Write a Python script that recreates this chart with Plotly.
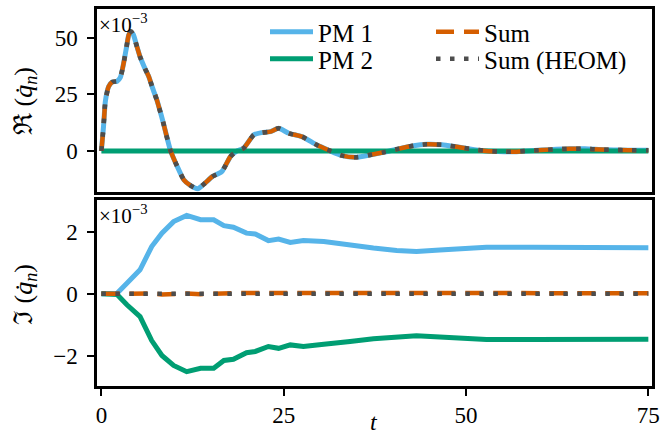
import plotly.graph_objects as go

# ---------------- data ----------------
# top panel: real part (values in units of 1e-3)
t_re = [0, 0.3, 0.55, 1.0, 1.5, 2.15, 2.6, 3.05, 3.45, 3.75, 4.05, 4.4, 4.8, 5.3, 5.9,
        6.5, 7.0, 7.6, 8.5, 9.45, 10.4, 11.3, 12.2, 13.2, 14.2, 15.2, 16.5, 17.7, 18.6, 19.5,
        20.9, 22.0, 23.2, 24.3, 25.7, 27.5, 29.5, 31.1, 33.0, 35.0, 36.8, 38.7, 40.7, 42.8, 44.6,
        46.7, 48.5, 50.5, 52.4, 54.4, 56.5, 58.3, 60.4, 62.4, 64.2, 66.3, 68.4, 70.2, 72.2, 75.0]
pm1_re = [0, 11, 22, 28.5, 30.5, 30.8, 32.5, 38.8, 46, 51.3, 52.8, 51.3, 47, 41.7, 37,
          32.9, 28, 22.6, 12.3, 0.4, -6.9, -12.8, -15.3, -16.8, -14.3, -11.4, -9.2, -2.5, 0, 1.2,
          7.1, 8.1, 8.5, 10, 7.8, 6.3, 2.7, 0.4, -2.1, -2.8, -1.8, -0.6, 0.9, 2.3, 2.9,
          2.7, 1.9, 0.9, 0.1, -0.3, -0.4, 0, 0.4, 0.7, 0.9, 0.9, 0.6, 0.4, 0.3, 0.3]
t_re_flat = [0, 75]
pm2_re = [0, 0]
sum_re = list(pm1_re)      # Sum overlaps PM 1 exactly in the picture
heom_re = list(pm1_re)     # HEOM sum overlaps as well

# bottom panel: imaginary part (values in units of 1e-3)
t_im = [0, 1.0, 2.15, 3.5, 5.3, 6.9, 8.3, 9.9, 11.7, 13.6, 15.4, 16.8, 18.1, 19.9, 21.1,
        22.9, 24.3, 25.9, 27.7, 30.5, 32.7, 34.1, 37.3, 40.5, 43.2, 46.4, 50.1, 52.8, 59.2, 66.1, 75.0]
pm1_im = [0, 0, 0.02, 0.34, 0.77, 1.52, 1.95, 2.32, 2.52, 2.38, 2.38, 2.19, 2.14, 1.95, 1.92,
          1.71, 1.76, 1.65, 1.71, 1.68, 1.61, 1.54, 1.47, 1.39, 1.36, 1.41, 1.46, 1.50, 1.50, 1.49, 1.48]
pm2_im = [0, 0, -0.02, -0.35, -0.73, -1.50, -1.98, -2.30, -2.50, -2.39, -2.39, -2.14, -2.10, -1.89, -1.85,
          -1.69, -1.75, -1.64, -1.69, -1.62, -1.58, -1.53, -1.44, -1.39, -1.35, -1.39, -1.45, -1.47, -1.47, -1.46, -1.46]
sum_im = [0, 0, 0, -0.01, 0.02, 0.01, -0.02, 0.01, 0.01, -0.01, -0.01, 0.02, 0.02, 0.03, 0.03,
          0.01, 0.01, 0.01, 0.02, 0.03, 0.03, 0.01, 0.03, 0.0, 0.01, 0.02, 0.01, 0.03, 0.03, 0.03, 0.02]
t_heom_im = [0, 75]
heom_im = [0, 0]

x_ticks = [0, 25, 50, 75]
y_ticks_re = [0, 25, 50]
y_ticks_im = [-2, 0, 2]

# ---------------- style ----------------
BLUE = "#56B4E9"
GREEN = "#009E73"
ORANGE = "#D55E00"
GREY = "#4D4D4D"
FONT = "Liberation Serif"

fig = go.Figure()

def add(x, y, name, color, width, dash, xa, ya, legend, show, shape):
    line = dict(color=color, width=width, dash=dash, shape=shape)
    if shape == "spline":
        line["smoothing"] = 0.6
    fig.add_trace(go.Scatter(
        x=x, y=y, name=name, mode="lines", line=line,
        xaxis=xa, yaxis=ya, legend=legend, showlegend=show, hoverinfo="skip"))

# top panel
add(t_re, pm1_re, "PM 1", BLUE, 5, "solid", "x", "y", "legend", True, "spline")
add(t_re_flat, pm2_re, "PM 2", GREEN, 5, "solid", "x", "y", "legend3", True, "linear")
add(t_re, sum_re, "Sum", ORANGE, 4.5, "18px,10px", "x", "y", "legend2", True, "spline")
add(t_re, heom_re, "Sum (HEOM)", GREY, 4.5, "4.5px,9.5px", "x", "y", "legend4", True, "spline")
# bottom panel
add(t_im, pm1_im, "PM 1", BLUE, 5, "solid", "x2", "y2", "legend", False, "linear")
add(t_im, pm2_im, "PM 2", GREEN, 5, "solid", "x2", "y2", "legend3", False, "linear")
add(t_im, sum_im, "Sum", ORANGE, 4.5, "18px,10px", "x2", "y2", "legend2", False, "linear")
add(t_heom_im, heom_im, "Sum (HEOM)", GREY, 4.5, "4.5px,9.5px", "x2", "y2", "legend4", False, "linear")

axis_common = dict(showline=True, linecolor="black", linewidth=2.5, mirror=True,
                   showgrid=False, zeroline=False, ticks="outside", ticklen=7, tickwidth=2,
                   tickcolor="black", tickfont=dict(family=FONT, size=23, color="black"),
                   automargin=False)

PW, PH, L, B = 555.0, 377.0, 97.0, 386.0
def px_x(px):
    return (px - L) / PW
def px_y(py):
    return (B - py) / PH

xr = [-0.6, 75.5]
fig.update_layout(
    width=660, height=435,
    margin=dict(l=97, r=8, t=9, b=49, autoexpand=False),
    paper_bgcolor="white", plot_bgcolor="white",
    font=dict(family=FONT, size=23, color="black"),
    xaxis=dict(axis_common, domain=[0, 1], anchor="y", range=xr, tickvals=x_ticks,
               showticklabels=False, ticks=""),
    yaxis=dict(axis_common, domain=[px_y(192), 1], anchor="x", range=[-18.2, 62.8],
               tickvals=y_ticks_re, ticklabelstandoff=5),
    xaxis2=dict(axis_common, domain=[0, 1], anchor="y2", range=xr, tickvals=x_ticks),
    yaxis2=dict(axis_common, domain=[0, px_y(199.5)], anchor="x2", range=[-2.96, 3.03],
                tickvals=y_ticks_im, ticklabelstandoff=5),
)

leg = dict(xref="paper", yref="paper", xanchor="left", yanchor="middle",
           bgcolor="rgba(0,0,0,0)", borderwidth=0, itemwidth=43,
           font=dict(family=FONT, size=25, color="black"))
fig.update_layout(
    legend=dict(leg, x=px_x(265), y=px_y(32)),
    legend3=dict(leg, x=px_x(265), y=px_y(59)),
    legend2=dict(leg, x=px_x(431), y=px_y(32)),
    legend4=dict(leg, x=px_x(431), y=px_y(59)),
)

ann = []
ann.append(dict(text="\u211c (<i>q\u0307</i><sub><i>n</i></sub>)", x=px_x(25), y=px_y(101), xref="paper", yref="paper",
                textangle=-90, showarrow=False, xanchor="center", yanchor="middle",
                font=dict(family=FONT, size=26)))
ann.append(dict(text="\u2111 (<i>q\u0307</i><sub><i>n</i></sub>)", x=px_x(25), y=px_y(295), xref="paper", yref="paper",
                textangle=-90, showarrow=False, xanchor="center", yanchor="middle",
                font=dict(family=FONT, size=26)))
ann.append(dict(text="<i>t</i>", x=px_x(374), y=px_y(422), xref="paper", yref="paper", showarrow=False,
                xanchor="center", yanchor="middle", font=dict(family=FONT, size=24)))
for ytop in (8, 199):
    ann.append(dict(text="\u00d710<sup>\u22123</sup>", x=px_x(97), y=px_y(ytop), xref="paper", yref="paper",
                    showarrow=False, xanchor="left", yanchor="top", font=dict(family=FONT, size=21)))
fig.update_layout(annotations=ann)

fig.write_html("out.html")
